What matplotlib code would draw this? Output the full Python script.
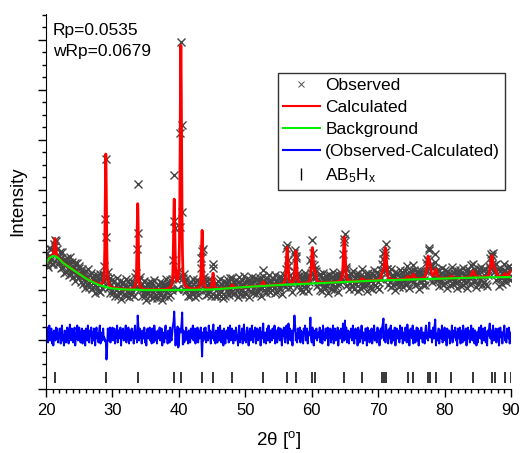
import numpy as np
import matplotlib
matplotlib.use("Agg")
import matplotlib.pyplot as plt
from matplotlib.lines import Line2D
from matplotlib.ticker import MultipleLocator

plt.rcParams['font.family'] = ['Liberation Sans', 'DejaVu Sans']
plt.rcParams['mathtext.default'] = 'regular'

# reflection table (2theta, height above background, FWHM)
peak_pos = [21.35, 29.0, 33.8, 39.3, 40.3, 43.5, 45.15, 48.05, 52.7, 56.3, 57.6,
            60.1, 60.5, 64.9, 67.6, 70.65, 71.1, 74.45, 75.3, 77.5, 77.8, 78.65,
            81.0, 84.3, 87.1, 87.6, 89.1, 89.95]
peak_height = [18, 133, 86, 89, 244, 59, 16, 3, 4, 37, 33,
               35, 10, 45, 2.5, 7, 32, 3, 5, 20, 10, 9,
               2, 6.5, 21, 6, 3, 6]
peak_fwhm = [0.25, 0.22, 0.22, 0.24, 0.25, 0.25, 0.25, 0.3, 0.3, 0.3, 0.3,
             0.32, 0.32, 0.32, 0.35, 0.35, 0.35, 0.4, 0.4, 0.4, 0.4, 0.4,
             0.4, 0.45, 0.45, 0.45, 0.45, 0.45]

# background knots
bg_x = [20, 20.5, 21, 21.5, 22, 22.5, 23, 24, 25, 26, 27, 28, 29, 30, 32, 35,
        40, 45, 50, 55, 60, 65, 70, 75, 80, 85, 90]
bg_y = [126, 131.5, 133.5, 133, 130.5, 127, 124.5, 120, 115.5, 111, 107.5, 104.5,
        102.5, 101, 100, 99.5, 99.5, 100, 102.5, 104.5, 106, 107.5, 109, 110, 111,
        112, 112.5]

# AB5Hx reflection markers
refl_pos = [21.35, 28.99, 33.80, 39.27, 40.37, 43.53, 45.14, 48.04, 52.71, 56.32,
            57.59, 60.09, 60.49, 64.90, 67.61, 70.63, 70.88, 71.14, 74.45, 75.29,
            77.46, 77.81, 78.66, 80.97, 84.32, 87.09, 87.59, 89.10, 89.95]

# observed - calculated, one value per 0.1 deg step from 20 to 90
resid = [
    5, -3, 8, -7, 2, 10, -5, -2, 7, -8,
    3, -10, 5, 0, -5, 8, -3, 7, -7, 2,
    -2, 7, -8, 3, 10, -5, 0, -10, 5, 3,
    -7, 2, 8, -3, -8, 5, 11, -2, -5, 7,
    0, -7, 3, 8, -10, 2, -3, 10, -5, 5,
    8, -2, -7, 3, 7, -8, 0, 5, -3, -10,
    7, 2, -5, 10, -3, -7, 5, 0, 8, -8,
    3, -5, 7, -2, -10, 3, 8, -3, 2, -7,
    5, 10, -8, 0, 3, -5, 7, -3, -2, -6,
    -5, -24, -12, 7, -5, 3, 8, -7, 2, -3,
    8, -5, 0, 7, -8, 3, -2, 10, -7, 5,
    -3, 2, 8, -10, 5, -2, 7, -5, 0, 3,
    10, -7, 2, -3, 8, -8, 5, 0, -5, 7,
    -2, 3, -8, 5, 10, -3, 2, -7, 20, 9,
    -5, 7, -2, 3, -8, 5, 0, -3, 8, -7,
    2, -10, 5, 7, -3, 0, 8, -5, 3, -8,
    7, -2, -7, 10, 2, -5, 3, -8, 5, 0,
    -3, 8, -5, 2, 7, -10, 3, 0, -7, 5,
    10, -3, 2, -8, 5, 3, -7, 8, -2, -5,
    3, 10, 14, 24, 6, -10, 5, -8, 9, -12,
    -10, 7, 4, 3, 12, 23, -9, 5, -7, 3,
    -5, 8, -2, 3, -8, 5, 0, -7, 7, 2,
    -3, 10, -5, 0, 7, -8, 3, -2, 8, -7,
    5, -3, 2, 8, -6, -21, 3, -5, 7, -2,
    8, -7, 3, 0, -5, 10, -2, 5, -8, 3,
    -3, 7, 11, -5, 2, -8, 5, 0, -7, 8,
    3, -5, 10, -2, -7, 5, 2, -10, 7, 0,
    -8, 3, 5, -3, 8, -7, 0, 10, -5, 2,
    7, -2, -8, 5, 3, -5, 8, -3, 0, -10,
    5, 10, -7, 2, -3, 7, -8, 3, 11, -5,
    0, -7, 5, 8, -2, -10, 3, 7, -5, 2,
    10, -3, -7, 5, 0, 8, -8, 2, 7, -5,
    -2, 5, 8, -10, 3, -3, 7, 12, -7, 0,
    3, -8, 2, 7, -5, 10, -2, -7, 5, 3,
    -5, 7, 0, -3, 10, -8, 3, 5, -7, 2,
    8, -2, -5, 7, 3, -10, 5, 0, 8, -3,
    -7, 3, 10, 2, -8, 12, -3, 7, -5, 0,
    5, -10, 3, 8, 20, 10, -5, 2, -7, 7,
    -3, 0, 8, -7, 5, -2, 3, -8, 7, 2,
    10, -5, -2, 7, -8, 3, 0, 5, 18, -3,
    -7, 8, 3, -10, 5, 2, -3, 7, -5, 0,
    3, -2, 8, -7, 0, 5, -8, 10, -3, 2,
    -5, 7, 2, -3, 8, -10, 3, 0, 7, -7,
    5, -3, 10, -8, 2, 7, -5, 3, -2, 8,
    -10, 2, 5, -3, 7, 0, -7, 12, 10, -5,
    15, -3, 8, -7, 2, 5, -8, 3, -2, 7,
    0, -5, 10, -2, -8, 3, 7, -3, 5, -10,
    8, 2, -7, 5, -3, 10, 0, -8, 3, -2,
    -5, 7, 3, -10, 8, -2, 5, -7, 2, 0,
    7, -8, -3, 5, 10, -5, 2, 3, -7, 8,
    -2, 5, -10, 0, 7, -3, 8, 12, 17, -5,
    3, -7, 11, -2, 5, -8, 0, 7, -3, 10,
    -8, 2, 5, -5, 3, 8, -10, 0, 7, -3,
    5, -2, -7, 10, -3, 2, 8, -8, 3, 0,
    -5, 8, 3, -7, 11, -2, 5, -10, 2, 7,
    0, -3, 10, -8, 5, 3, -7, 2, 8, -5,
    7, -10, 2, 5, -3, 8, 0, -7, 3, -2,
    -8, 5, 10, -3, 2, -5, 7, 13, -2, 3,
    5, -7, 0, 8, -3, 10, 16, -10, 2, -5,
    -2, 7, -8, 3, 5, -3, 10, -7, 0, 2,
    8, -5, 3, -10, 7, 2, -2, 5, -8, 3,
    -3, 10, -7, 0, 5, -2, 8, -5, 3, -10,
    7, 2, -3, 8, -8, 5, 0, -7, 10, -2,
    -5, 3, 7, -10, 2, 8, -3, 5, -7, 0,
    10, -2, -5, 7, 3, -8, 5, 2, -10, 3,
    -7, 5, 8, -2, -3, 10, -8, 0, 7, -5,
    2, 8, -7, 3, -10, 5, 0, 7, 12, -3,
    5, -8, 2, 10, -5, 3, -2, 7, -7, 0,
    -3, 7, -10, 5, 8, -2, 3, -8, 2, 5,
    10, -5, 0, -7, 7, 3, -3, 8, -8, 2,
    3,
]

diff_offset = 54


def profile(x):
    y = np.interp(x, bg_x, bg_y)
    for p, h, w in zip(peak_pos, peak_height, peak_fwhm):
        t = (x - p) / (w / 2)
        y = y + h * (0.5 / (1 + t ** 2) + 0.5 * np.exp(-np.log(2) * t ** 2))
    return y


x_obs = 20 + 0.1 * np.arange(len(resid))
resid = np.array(resid)
y_obs = profile(x_obs) + resid
x_fine = np.linspace(20, 90, 3501)
y_calc = profile(x_fine)

fig = plt.figure(figsize=(5.26, 4.53), dpi=100)
ax = fig.add_axes([0.0875, 0.1402, 0.884, 0.8298])

ax.plot(x_obs, y_obs, 'x', color='#444444', ms=5.5, mew=1.0)
ax.plot(x_fine, y_calc, color='#ff0000', lw=2.0)
ax.plot(bg_x, bg_y, color='#00f000', lw=1.6)
ax.plot(x_obs, diff_offset + resid, color='#0000ff', lw=1.4)
ax.vlines(refl_pos, 6.5, 17.5, color='k', lw=1.1)

ax.set_xlim(20, 90)
ax.set_ylim(0, 376)
ax.spines['top'].set_visible(False)
ax.spines['right'].set_visible(False)
ax.xaxis.set_major_locator(MultipleLocator(10))
ax.xaxis.set_minor_locator(MultipleLocator(1))
ax.yaxis.set_major_locator(MultipleLocator(50))
ax.yaxis.set_minor_locator(MultipleLocator(12.5))
ax.tick_params(which='major', length=6, width=1, labelsize=12)
ax.tick_params(which='minor', length=3, width=1)
ax.tick_params(axis='y', labelleft=False)

ax.set_xlabel('2θ [$^{o}$]', fontsize=13.5, labelpad=8)
ax.set_ylabel('Intensity', fontsize=13.5, labelpad=7.5)

ax.text(0.015, 0.942, 'Rp=0.0535', transform=ax.transAxes, fontsize=12.5, va='baseline')
ax.text(0.015, 0.888, 'wRp=0.0679', transform=ax.transAxes, fontsize=12.5, va='baseline')

handles = [
    Line2D([], [], ls='none', marker='x', color='#505050', ms=4.5, mew=0.7),
    Line2D([], [], color='#ff0000', lw=1.5),
    Line2D([], [], color='#00f000', lw=1.5),
    Line2D([], [], color='#0000ff', lw=1.5),
    Line2D([], [], ls='none', marker='|', color='k', ms=8, mew=1),
]
labels = ['Observed', 'Calculated', 'Background', '(Observed-Calculated)', 'AB$_5$H$_x$']
leg = ax.legend(handles, labels, loc='upper right', bbox_to_anchor=(0.987, 0.842),
                borderaxespad=0, fontsize=12.5, frameon=True, fancybox=False,
                edgecolor='k', handlelength=2.15, handletextpad=0.3,
                labelspacing=0.4, borderpad=0.28)
leg.get_frame().set_linewidth(1)

fig.savefig('out.png', dpi=100)
